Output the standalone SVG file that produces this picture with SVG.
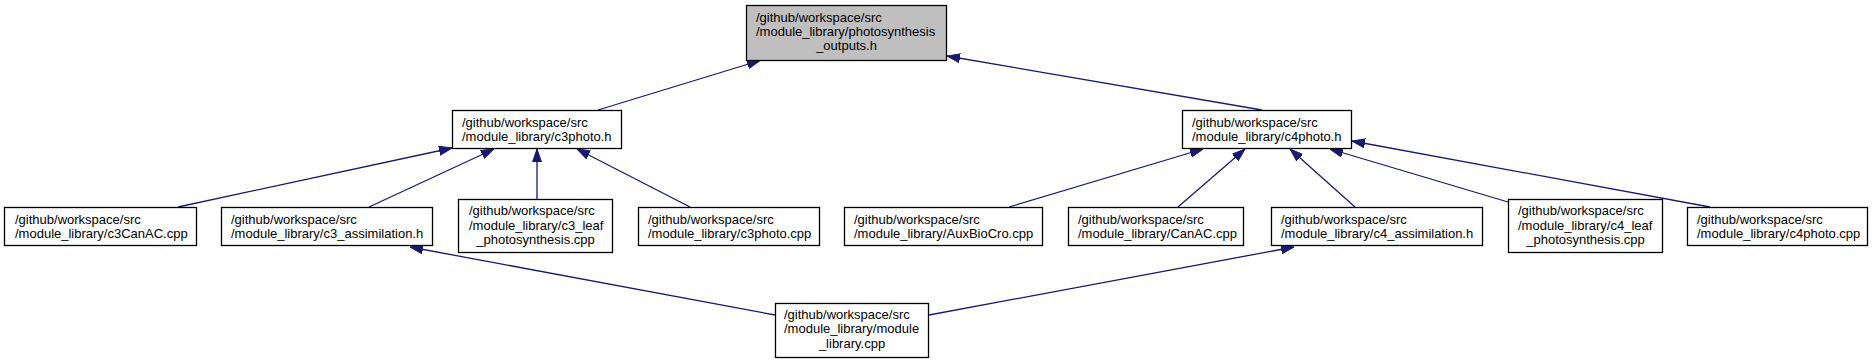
<svg xmlns="http://www.w3.org/2000/svg" width="1875" height="364" viewBox="0 0 1875 364">
<style>
.node rect{fill:#ffffff;stroke:#000000;stroke-width:1.3}
.root rect{fill:#bfbfbf}
text{font-family:"Liberation Sans",Arial,Helvetica,sans-serif;font-size:13px;fill:#000000}
text.c{text-anchor:middle}
.edges path{stroke:#191970;stroke-width:1.3;fill:none;marker-end:url(#ah)}
</style>
<defs>
<marker id="ah" viewBox="0 0 13 10" refX="13" refY="5" markerWidth="13" markerHeight="10" orient="auto" markerUnits="userSpaceOnUse">
<path d="M0,0.5 L13,5 L0,9.5 z" fill="#191970" stroke="#191970" stroke-width="1"/>
</marker>
</defs>
<rect x="0" y="0" width="1875" height="364" fill="#ffffff"/>
<g class="edges" id="edges">
<path d="M598,110 L760,60.5"/>
<path d="M1262,110 L947,56"/>
<path d="M178,207 L452,148"/>
<path d="M369,207 L494,149"/>
<path d="M537,199 L537,149"/>
<path d="M690,207 L577,149"/>
<path d="M1009,207 L1203,149"/>
<path d="M1178,207 L1245,149"/>
<path d="M1355,207 L1290,149"/>
<path d="M1508,202 L1330,149"/>
<path d="M1710,207 L1352,141"/>
<path d="M775,315 L410,247"/>
<path d="M929,315 L1294,247"/>
</g>
<g class="node root" id="node_photosynthesis_outputs">
<rect x="746.5" y="5.5" width="200" height="55"/>
<text x="756" y="21.5">/github/workspace/src</text>
<text x="756" y="35.5">/module_library/photosynthesis</text>
<text class="c" x="846.5" y="49.5">_outputs.h</text>
</g>
<g class="node" id="node_c3photo_h">
<rect x="452.5" y="110.5" width="169" height="38"/>
<text x="462" y="127">/github/workspace/src</text>
<text x="462" y="141">/module_library/c3photo.h</text>
</g>
<g class="node" id="node_c4photo_h">
<rect x="1182.5" y="110.5" width="169" height="38"/>
<text x="1192" y="127">/github/workspace/src</text>
<text x="1192" y="141">/module_library/c4photo.h</text>
</g>
<g class="node" id="node_c3CanAC_cpp">
<rect x="4.5" y="207.5" width="192" height="38"/>
<text x="15" y="224">/github/workspace/src</text>
<text x="15" y="238">/module_library/c3CanAC.cpp</text>
</g>
<g class="node" id="node_c3_assimilation_h">
<rect x="221.5" y="207.5" width="211" height="38"/>
<text x="231" y="224">/github/workspace/src</text>
<text x="231" y="238">/module_library/c3_assimilation.h</text>
</g>
<g class="node" id="node_c3_leaf_photosynthesis_cpp">
<rect x="458.5" y="199.5" width="154" height="53"/>
<text x="469" y="215">/github/workspace/src</text>
<text x="469" y="229.5">/module_library/c3_leaf</text>
<text class="c" x="535.5" y="243.5">_photosynthesis.cpp</text>
</g>
<g class="node" id="node_c3photo_cpp">
<rect x="638.5" y="207.5" width="181" height="38"/>
<text x="648" y="224">/github/workspace/src</text>
<text x="648" y="238">/module_library/c3photo.cpp</text>
</g>
<g class="node" id="node_AuxBioCro_cpp">
<rect x="844.5" y="207.5" width="198" height="38"/>
<text x="854" y="224">/github/workspace/src</text>
<text x="854" y="238">/module_library/AuxBioCro.cpp</text>
</g>
<g class="node" id="node_CanAC_cpp">
<rect x="1068.5" y="207.5" width="175" height="38"/>
<text x="1078" y="224">/github/workspace/src</text>
<text x="1078" y="238">/module_library/CanAC.cpp</text>
</g>
<g class="node" id="node_c4_assimilation_h">
<rect x="1271.5" y="207.5" width="211" height="38"/>
<text x="1281" y="224">/github/workspace/src</text>
<text x="1281" y="238">/module_library/c4_assimilation.h</text>
</g>
<g class="node" id="node_c4_leaf_photosynthesis_cpp">
<rect x="1508.5" y="199.5" width="154" height="53"/>
<text x="1518" y="215">/github/workspace/src</text>
<text x="1518" y="229.5">/module_library/c4_leaf</text>
<text class="c" x="1585.5" y="243.5">_photosynthesis.cpp</text>
</g>
<g class="node" id="node_c4photo_cpp">
<rect x="1687.5" y="207.5" width="180" height="38"/>
<text x="1697" y="224">/github/workspace/src</text>
<text x="1697" y="238">/module_library/c4photo.cpp</text>
</g>
<g class="node" id="node_module_library_cpp">
<rect x="775.5" y="303.5" width="153" height="54"/>
<text x="784" y="319">/github/workspace/src</text>
<text x="784" y="333">/module_library/module</text>
<text class="c" x="852" y="347.5">_library.cpp</text>
</g>
</svg>
